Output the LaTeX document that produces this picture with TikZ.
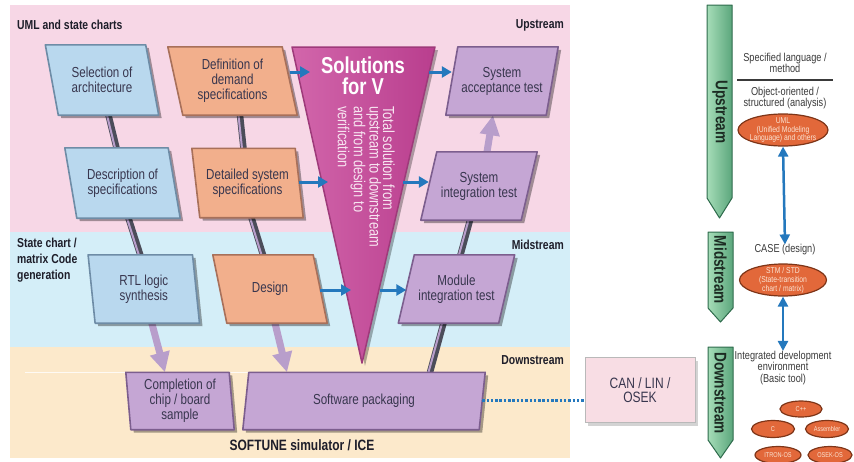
\documentclass[tikz,border=0pt]{standalone}
\usepackage{fontspec}
\setmainfont{Liberation Sans}[FakeStretch=0.8]
\usetikzlibrary{shapes.geometric,arrows.meta,calc,shadows}
\pgfdeclarelayer{back}
\pgfdeclarelayer{conn}
\pgfdeclarelayer{mid}
\pgfsetlayers{back,conn,mid,main}
\definecolor{bgpink}{HTML}{F7D7E6}
\definecolor{bgblue}{HTML}{D4EEF8}
\definecolor{bgyel}{HTML}{FCE9CB}
\definecolor{bluefill}{HTML}{B9D8EE}
\definecolor{blueedge}{HTML}{6E8CA6}
\definecolor{orfill}{HTML}{F2AF8C}
\definecolor{oredge}{HTML}{A8705A}
\definecolor{pufill}{HTML}{C5A6D4}
\definecolor{puedge}{HTML}{7C5E8E}
\definecolor{vmagL}{HTML}{D266AB}
\definecolor{vmagR}{HTML}{B93E8E}
\definecolor{vmagdark}{HTML}{9E3A7A}
\definecolor{arrowblue}{HTML}{2478BD}
\definecolor{barsh}{HTML}{4C4D5A}
\definecolor{barpu}{HTML}{B89ECB}
\definecolor{greenA}{HTML}{A6DDB8}
\definecolor{greenB}{HTML}{5BA67C}
\definecolor{greenE}{HTML}{2E6B4C}
\definecolor{ellfill}{HTML}{E2683A}
\definecolor{elledge}{HTML}{7E3518}
\definecolor{canfill}{HTML}{F8DDE4}
\definecolor{boxtxt}{HTML}{38364E}
\definecolor{hdrtxt}{HTML}{1E1E2A}
\definecolor{rtxt}{HTML}{3A3A3A}
\definecolor{elltxt}{HTML}{FBE3D2}
\definecolor{gtxt}{HTML}{1C2B22}
\definecolor{vtxt}{HTML}{F7E4F0}
% name, center, width, height, slant, style, text
\newcommand{\pgbox}[7]{%
  \node[boxtext, minimum width=#3, minimum height=#4] (#1) at (#2) {#7};
  \begin{pgfonlayer}{mid}
    \fill[black, opacity=.35, transform canvas={xshift=3pt,yshift=-3pt}]
      ($(#1.north west)-(#5,0)$) -- ($(#1.north east)-(#5,0)$) --
      ($(#1.south east)+(#5,0)$) -- ($(#1.south west)+(#5,0)$) -- cycle;
    \path[#6]
      ($(#1.north west)-(#5,0)$) -- ($(#1.north east)-(#5,0)$) --
      ($(#1.south east)+(#5,0)$) -- ($(#1.south west)+(#5,0)$) -- cycle;
  \end{pgfonlayer}}
\begin{document}
\begin{tikzpicture}[x=1pt,y=-1pt,
  boxtext/.style={inner sep=0pt, align=center, text=boxtxt, font=\fontsize{14.5}{15}\selectfont},
  bluebox/.style={fill=bluefill, draw=blueedge, line width=1.6pt, line join=round},
  orbox/.style={fill=orfill, draw=oredge, line width=1.6pt, line join=round},
  pubox/.style={fill=pufill, draw=puedge, line width=1.6pt, line join=round},
  bar/.style={draw=barsh, line width=6.5pt, postaction={draw=barpu, line width=2pt, transform canvas={xshift=-1.5pt}}},
  puarrow/.style={draw=barpu, line width=7pt, -{Triangle[width=19pt,length=20pt]}},
  bluearrow/.style={draw=arrowblue, line width=3pt, -{Triangle[width=11pt,length=10pt]}},
  dblarrow/.style={draw=arrowblue, line width=2.5pt, {Triangle[width=10pt,length=10pt]}-{Triangle[width=10pt,length=10pt]}},
  dotline/.style={draw=arrowblue, line width=3pt, dash pattern=on 2.5pt off 1.8pt},
  hdr/.style={inner sep=0pt, text=hdrtxt, font=\bfseries\fontsize{13}{16}\selectfont},
  rtext/.style={inner sep=0pt, align=center, text=rtxt, font=\fontsize{11.5}{11.5}\selectfont},
  ellbg/.style={ellipse, fill=ellfill, draw=elledge, line width=1.2pt, inner sep=0pt},
  elltext/.style={inner sep=0pt, align=center, text=elltxt, font=\fontsize{8.5}{8.8}\selectfont},
  smalltext/.style={inner sep=0pt, text=elltxt, font=\fontsize{7}{7}\selectfont},
  greenarr/.style={left color=greenA, right color=greenB, draw=greenE, line width=1pt, line join=round},
  glbl/.style={inner sep=0pt, rotate=-90, text=gtxt, font=\bfseries\fontsize{17}{17}\selectfont},
]
\useasboundingbox (0,0) rectangle (854,461);
% background bands
\begin{pgfonlayer}{back}
  \fill[bgpink] (10,5) rectangle (570,232);
  \fill[bgblue] (10,232) rectangle (570,347);
  \fill[bgyel] (10,347) rectangle (570,458);
  \draw[white, line width=0.8pt, opacity=.8] (25,372) -- (250,372);
\end{pgfonlayer}

% band labels
\node[hdr, anchor=west] (lbluml) at (17,25) {UML and state charts};
\node[hdr, anchor=east] (lblup) at (564,25) {Upstream};
\node[hdr, anchor=north west, align=left] (lblsc) at (17,238) {State chart /\\matrix Code\\generation};
\node[hdr, anchor=east] (lblmid) at (564,245) {Midstream};
\node[hdr, anchor=east] (lbldown) at (564,360) {Downstream};
\node[inner sep=0pt, text=hdrtxt, font=\bfseries\fontsize{15}{16}\selectfont] (lblsoft) at (302,445) {SOFTUNE simulator / ICE};

% boxes
\pgbox{sel}{102,80}{100pt}{70pt}{6.5}{bluebox}{Selection of\\architecture}
\pgbox{def}{232.5,81}{114pt}{68pt}{7.5}{orbox}{Definition of\\demand\\specifications}
\pgbox{desc}{122.5,183}{103pt}{70pt}{6}{bluebox}{Description of\\specifications}
\pgbox{det}{247.5,183}{103pt}{69pt}{4}{orbox}{Detailed system\\specifications}
\pgbox{rtl}{143.8,289}{104pt}{68pt}{3.5}{bluebox}{RTL logic\\synthesis}
\pgbox{design}{270,289}{100pt}{68pt}{7}{orbox}{Design}
\pgbox{comp}{180,401}{103pt}{57pt}{2.5}{pubox}{Completion of\\chip / board\\sample}
\pgbox{sp}{364,401}{236pt}{57pt}{-3}{pubox}{Software packaging}
\pgbox{sysacc}{502,81}{100pt}{68pt}{-6}{pubox}{System\\acceptance test}
\pgbox{sysint}{479,186}{100pt}{68pt}{-8}{pubox}{System\\integration test}
\pgbox{mod}{456.5,289}{100pt}{68pt}{-8}{pubox}{Module\\integration test}

% V triangle
\coordinate (tA) at (292,47);
\coordinate (tB) at (435,47);
\coordinate (tC) at (362,363);
\begin{pgfonlayer}{mid}
  \fill[black, opacity=.3, transform canvas={xshift=3pt,yshift=-3pt}] (tA) -- (tB) -- (tC) -- cycle;
  \path[left color=vmagL, right color=vmagR, draw=vmagdark, line width=1.5pt, line join=round] (tA) -- (tB) -- (tC) -- cycle;
\end{pgfonlayer}
\node[inner sep=0pt, align=center, text=white, font=\bfseries\fontsize{23}{21}\selectfont] (vtitle) at (363,76) {Solutions\\for V};
\node[inner sep=0pt, align=left, rotate=-90, anchor=north west, text=vtxt, font=\fontsize{16}{13.5}\selectfont] (vsub) at (395,106) {Total solution from\\upstream to downstream\\and from design to\\verification};

% connectors between boxes
\begin{pgfonlayer}{conn}
  \draw[bar] ([xshift=6.5pt]sel.south) -- ([xshift=-6pt]desc.north);
  \draw[bar] ([xshift=6pt]desc.south) -- ([xshift=-3.5pt]rtl.north);
  \draw[bar] ([xshift=7.5pt]def.south) -- ([xshift=-4pt]det.north);
  \draw[bar] ([xshift=4pt]det.south) -- ([xshift=-7pt]design.north);
  \draw[puarrow] ([xshift=8pt]rtl.south) -- ([xshift=-15pt]comp.north);
  \draw[puarrow] ([xshift=5pt]design.south) -- ([xshift=-77pt]sp.north);
  \draw[bar] ([xshift=66pt]sp.north) -- ([xshift=-13pt]mod.south);
  \draw[bar] ([xshift=4pt]mod.north) -- ([xshift=-9pt]sysint.south);
  \draw[puarrow] ([xshift=8pt]sysint.north) -- ([xshift=-9pt]sysacc.south);
\end{pgfonlayer}

% blue arrows to / from the V
\coordinate (t1) at (310,72);
\coordinate (t2) at (429,72);
\coordinate (t3) at (328,182);
\coordinate (t4) at (403,182);
\coordinate (t5) at (351,290);
\coordinate (t6) at (380,290);
\draw[bluearrow] (def.east |- t1) -- (t1);
\draw[bluearrow] (t2) -- (sysacc.west |- t2);
\draw[bluearrow] (det.east |- t3) -- (t3);
\draw[bluearrow] (t4) -- (sysint.west |- t4);
\draw[bluearrow] (design.east |- t5) -- (t5);
\draw[bluearrow] (t6) -- (mod.west |- t6);

% CAN box
\node[fill=canfill, draw=gray!55, line width=0.6pt, minimum width=110pt, minimum height=65pt,
      drop shadow={shadow xshift=3pt, shadow yshift=-3pt, opacity=.35},
      align=center, text=boxtxt, font=\fontsize{15}{14}\selectfont] (can) at (640,390) {CAN / LIN /\\OSEK};
\coordinate (dl) at (0,400);
\draw[dotline] (sp.east |- dl) -- (can.west |- dl);

% green stream arrows
\path[greenarr] (707,5) -- (732,5) -- (732,198) -- (719.5,218) -- (707,198) -- cycle;
\path[greenarr] (708,232) -- (733,232) -- (733,308) -- (720.5,322) -- (708,308) -- cycle;
\path[greenarr] (708,347) -- (733,347) -- (733,440) -- (720.5,458) -- (708,440) -- cycle;
\node[glbl] (gup) at (720,112) {Upstream};
\node[glbl] (gmid) at (720.5,270) {Midstream};
\node[glbl] (gdown) at (720.5,393) {Downstream};

% right column
\node[rtext] (spec) at (785,63) {Specified language /\\method};
\draw[line width=1.3pt, color=rtxt] (737,80) -- (833,80);
\node[rtext] (obj) at (785,98) {Object-oriented /\\structured (analysis)};
\node[ellbg, minimum width=90pt, minimum height=32pt] (uml) at (783,130) {};
\node[elltext] (umlt) at (uml) {UML\\(Unified Modeling\\Language) and others};
\node[rtext] (case) at (785,250) {CASE (design)};
\node[ellbg, minimum width=87pt, minimum height=32pt] (stm) at (783,280) {};
\node[elltext] (stmt) at (stm) {STM / STD\\(State-transition\\chart / matrix)};
\node[rtext] (ide) at (783,368) {Integrated development\\environment\\(Basic tool)};
\draw[dblarrow] (uml.south) -- (case.north);
\draw[dblarrow] (stm.south) -- (ide.north);

\node[ellbg, minimum width=42pt, minimum height=16pt] (cpp) at (801,409) {};
\node[smalltext] (cppt) at (cpp) {C++};
\node[ellbg, minimum width=43pt, minimum height=17pt] (cc) at (773,429) {};
\node[smalltext] (cct) at (cc) {C};
\node[ellbg, minimum width=43pt, minimum height=17pt] (asm) at (827,429) {};
\node[smalltext] (asmt) at (asm) {Assembler};
\node[ellbg, minimum width=46pt, minimum height=17pt] (itron) at (778,455) {};
\node[smalltext] (itront) at (itron) {ITRON-OS};
\node[ellbg, minimum width=44pt, minimum height=17pt] (osek) at (830,455) {};
\node[smalltext] (osekt) at (osek) {OSEK-OS};
\end{tikzpicture}
\end{document}
